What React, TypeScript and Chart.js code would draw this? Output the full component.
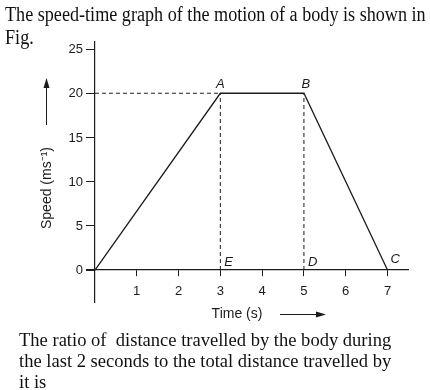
import React, { useEffect, useRef } from "react";
import { Chart, registerables } from "chart.js";

Chart.register(...registerables);

// ---- data ----
const timeValues = [0, 3, 5, 7];
const speedValues = [0, 20, 20, 0];
const pointNames = ["", "A", "B", "C"];
const footNames = ["", "E", "D", ""];
const xTickValues = [1, 2, 3, 4, 5, 6, 7];
const yTickValues = [0, 5, 10, 15, 20, 25];
const xAxisTitle = "Time (s)";
const yAxisTitle = "Speed (ms\u207B\u00B9)";
const titleLines = [
  "The speed-time graph of the motion of a body is shown in",
  "Fig.",
];
const questionLines = [
  "The ratio of  distance travelled by the body during",
  "the last 2 seconds to the total distance travelled by",
  "it is",
];

const INK = "#1c1c1c";
const SANS = "'Liberation Sans', Arial, sans-serif";

export default function App() {
  const canvasRef = useRef<HTMLCanvasElement | null>(null);

  useEffect(() => {
    const canvas = canvasRef.current;
    if (!canvas) return;

    const mainData = timeValues.map((t, i) => ({ x: t, y: speedValues[i] }));
    const plateau = speedValues[1];
    const hDash = [
      { x: 0, y: plateau },
      { x: timeValues[1], y: plateau },
    ];
    const vDashA = [
      { x: timeValues[1], y: 0 },
      { x: timeValues[1], y: speedValues[1] },
    ];
    const vDashB = [
      { x: timeValues[2], y: 0 },
      { x: timeValues[2], y: speedValues[2] },
    ];

    const labelPlugin = {
      id: "labels",
      afterDraw(chart: any) {
        const ctx = chart.ctx;
        const xs = chart.scales.x;
        const ys = chart.scales.y;
        ctx.save();
        ctx.fillStyle = INK;

        // y tick labels, left of the y axis (which sits at x = 0)
        ctx.font = `13px ${SANS}`;
        ctx.textAlign = "right";
        ctx.textBaseline = "middle";
        const axisX = xs.getPixelForValue(0);
        ys.ticks.forEach((t: any) => {
          ctx.fillText(String(t.value), axisX - 12, ys.getPixelForValue(t.value) + 0.5);
        });

        ctx.font = `italic 13px ${SANS}`;
        // point labels
        pointNames.forEach((name, i) => {
          if (!name) return;
          const px = xs.getPixelForValue(timeValues[i]);
          const py = ys.getPixelForValue(speedValues[i]);
          if (speedValues[i] === 0) {
            ctx.textAlign = "left";
            ctx.fillText(name, px + 3, py - 11);
          } else {
            ctx.textAlign = "center";
            ctx.fillText(name, px + (i === 2 ? 2 : 0), py - 9);
          }
        });
        footNames.forEach((name, i) => {
          if (!name) return;
          const px = xs.getPixelForValue(timeValues[i]);
          const py = ys.getPixelForValue(0);
          ctx.textAlign = "left";
          ctx.fillText(name, px + 4, py - 8);
        });

        // axis titles
        ctx.font = `14px ${SANS}`;
        ctx.textAlign = "center";
        ctx.fillText(xAxisTitle, 237, 314);
        ctx.save();
        ctx.translate(47, 188);
        ctx.rotate(-Math.PI / 2);
        ctx.fillText(yAxisTitle, 0, 0);
        ctx.restore();

        // arrows
        ctx.strokeStyle = INK;
        ctx.lineWidth = 1;
        ctx.beginPath();
        ctx.moveTo(280, 314.5);
        ctx.lineTo(320, 314.5);
        ctx.stroke();
        ctx.beginPath();
        ctx.moveTo(326, 314.5);
        ctx.lineTo(316, 311.5);
        ctx.lineTo(316, 317.5);
        ctx.closePath();
        ctx.fill();

        ctx.beginPath();
        ctx.moveTo(46.5, 125);
        ctx.lineTo(46.5, 84);
        ctx.stroke();
        ctx.beginPath();
        ctx.moveTo(46.5, 78);
        ctx.lineTo(43.5, 88);
        ctx.lineTo(49.5, 88);
        ctx.closePath();
        ctx.fill();
        ctx.restore();
      },
    };

    const tickFont = { family: SANS, size: 13 };

    const chart = new Chart(canvas, {
      type: "scatter",
      data: {
        datasets: [
          {
            data: mainData,
            showLine: true,
            borderColor: INK,
            borderWidth: 1.3,
            pointRadius: 0,
          },
          {
            data: hDash,
            showLine: true,
            borderColor: INK,
            borderWidth: 1,
            borderDash: [4, 3],
            pointRadius: 0,
          },
          {
            data: vDashA,
            showLine: true,
            borderColor: INK,
            borderWidth: 1,
            borderDash: [4, 3],
            pointRadius: 0,
          },
          {
            data: vDashB,
            showLine: true,
            borderColor: INK,
            borderWidth: 1,
            borderDash: [4, 3],
            pointRadius: 0,
          },
        ],
      },
      options: {
        responsive: false,
        animation: false,
        events: [],
        layout: { padding: { left: 87, right: 22, top: 42, bottom: 88 } },
        plugins: {
          legend: { display: false },
          tooltip: { enabled: false },
          title: { display: false },
        },
        scales: {
          x: {
            type: "linear",
            min: -0.19,
            max: 7.49,
            position: { y: 0 } as any,
            afterBuildTicks: (s: any) => {
              s.ticks = xTickValues.map((v) => ({ value: v }));
            },
            grid: {
              drawOnChartArea: false,
              drawTicks: true,
              tickLength: 6,
              color: INK,
            },
            border: { display: true, color: INK, width: 1.2 },
            ticks: {
              font: tickFont,
              color: INK,
              padding: 8,
              maxRotation: 0,
              autoSkip: false,
            },
          },
          y: {
            type: "linear",
            min: -3.62,
            max: 25.8,
            position: { x: 0 } as any,
            afterBuildTicks: (s: any) => {
              s.ticks = yTickValues.map((v) => ({ value: v }));
            },
            grid: {
              drawOnChartArea: false,
              drawTicks: true,
              tickLength: 8,
              color: INK,
            },
            border: { display: true, color: INK, width: 1.2 },
            ticks: {
              display: false,
              font: tickFont,
              color: INK,
              autoSkip: false,
            },
          },
        },
      },
      plugins: [labelPlugin],
    });

    return () => chart.destroy();
  }, []);

  const serif = "'Liberation Serif', 'Times New Roman', serif";

  return (
    <div
      style={{
        position: "absolute",
        left: 0,
        top: 0,
        width: 430,
        height: 390,
        background: "#fff",
        overflow: "hidden",
      }}
    >
      <canvas
        ref={canvasRef}
        width={430}
        height={390}
        style={{ position: "absolute", left: 0, top: 0, width: 430, height: 390 }}
      />
      {titleLines.map((line, i) => (
        <div
          key={"t" + i}
          style={{
            position: "absolute",
            left: 5,
            top: 3 + i * 23.3,
            fontFamily: serif,
            fontSize: 20,
            lineHeight: "23px",
            whiteSpace: "pre",
            color: "#111",
            transform: "scaleX(0.907)",
            transformOrigin: "left top",
          }}
        >
          {line}
        </div>
      ))}
      {questionLines.map((line, i) => (
        <div
          key={"q" + i}
          style={{
            position: "absolute",
            left: 19,
            top: 330 + i * 21,
            fontFamily: serif,
            fontSize: 18,
            lineHeight: "21px",
            whiteSpace: "pre",
            color: "#111",
            transform: "scaleX(1.03)",
            transformOrigin: "left top",
          }}
        >
          {line}
        </div>
      ))}
    </div>
  );
}
